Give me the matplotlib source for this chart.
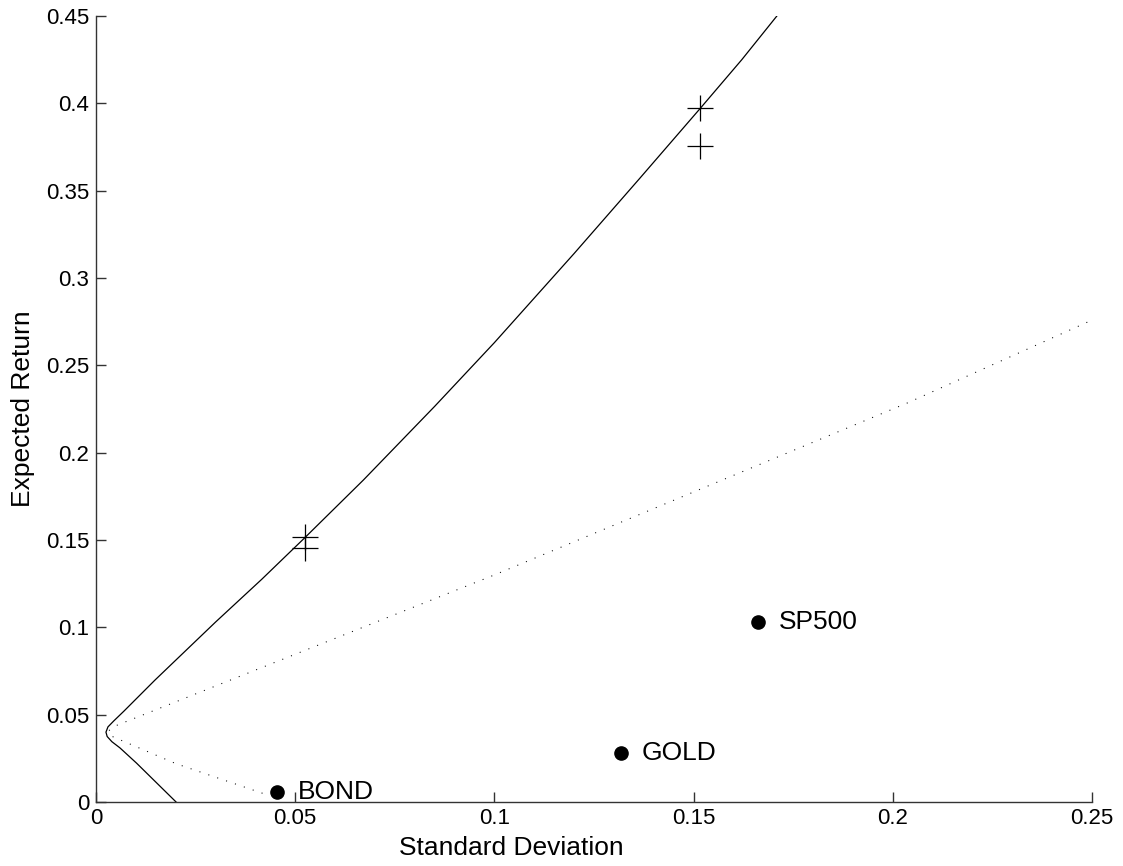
import matplotlib
matplotlib.use("Agg")
import matplotlib.pyplot as plt
from matplotlib.ticker import FixedLocator, FormatStrFormatter

plt.rcParams['font.family'] = ['Liberation Sans', 'DejaVu Sans']

# Efficient frontier (solid)
frontier_sd = [0.0201, 0.0102, 0.0060, 0.0040, 0.0028, 0.0025, 0.0030, 0.0045, 0.0070, 0.0148,
               0.0300, 0.0416, 0.0525, 0.0671, 0.0850, 0.1000, 0.1200, 0.1365, 0.1517, 0.1621, 0.1709]
frontier_ret = [0.0000, 0.0222, 0.0310, 0.0345, 0.0375, 0.0400, 0.0430, 0.0465, 0.0520, 0.0698,
                0.1030, 0.1275, 0.1515, 0.1843, 0.2265, 0.2630, 0.3140, 0.3571, 0.3972, 0.4250, 0.4500]

# Dotted line
dotted_sd = [0.0418, 0.0200, 0.0042, 0.0030, 0.0050, 0.1000, 0.2038, 0.2497]
dotted_ret = [0.0050, 0.0220, 0.0374, 0.0405, 0.0437, 0.1300, 0.2286, 0.2756]

# Plus markers
plus_sd = [0.0525, 0.0525, 0.1517, 0.1517]
plus_ret = [0.1515, 0.1454, 0.3972, 0.3757]

# Assets
asset_names = ['BOND', 'GOLD', 'SP500']
asset_sd = [0.0454, 0.1318, 0.1661]
asset_ret = [0.0056, 0.0279, 0.1029]

xticks = [0, 0.05, 0.1, 0.15, 0.2, 0.25]
yticks = [0, 0.05, 0.1, 0.15, 0.2, 0.25, 0.3, 0.35, 0.4, 0.45]

fig = plt.figure(figsize=(11.23, 8.66), dpi=100)
ax = fig.add_axes([96/1123, 64/866, 996/1123, 786/866])

ax.plot(frontier_sd, frontier_ret, color='black', lw=0.9, solid_joinstyle='round')
ax.plot(dotted_sd, dotted_ret, color='black', lw=0.75, linestyle=(0, (1, 8)))
ax.plot(plus_sd, plus_ret, linestyle='none', marker='+', markersize=19,
        markeredgewidth=0.9, color='black')
ax.plot(asset_sd, asset_ret, linestyle='none', marker='o', markersize=9.5, color='black')
for name, sx, ry in zip(asset_names, asset_sd, asset_ret):
    ax.annotate(name, (sx, ry), xytext=(15, 0), textcoords='offset points',
                va='center', ha='left', fontsize=19)

ax.set_xlim(0, 0.25)
ax.set_ylim(0, 0.45)
ax.xaxis.set_major_locator(FixedLocator(xticks))
ax.yaxis.set_major_locator(FixedLocator(yticks))
ax.xaxis.set_major_formatter(FormatStrFormatter('%g'))
ax.yaxis.set_major_formatter(FormatStrFormatter('%g'))
ax.tick_params(direction='in', length=7, width=1, colors='#333333', labelcolor='black',
               labelsize=16)
ax.tick_params(axis='x', pad=4)
ax.tick_params(axis='y', pad=5)
for s in ['top', 'right']:
    ax.spines[s].set_visible(False)
for s in ['left', 'bottom']:
    ax.spines[s].set_color('#333333')
    ax.spines[s].set_linewidth(1)

ax.set_xlabel('Standard Deviation', fontsize=19)
ax.xaxis.set_label_coords((511 - 96) / 996, -34 / 786)
ax.set_ylabel('Expected Return', fontsize=19)
ax.yaxis.set_label_coords(-61 / 996, 0.5)

fig.savefig('out.png', dpi=100)
